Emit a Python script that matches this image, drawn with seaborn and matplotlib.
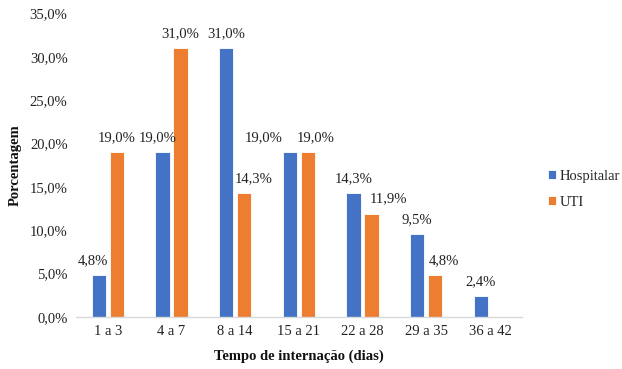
import matplotlib
matplotlib.use("Agg")
import matplotlib.pyplot as plt
import seaborn as sns
import pandas as pd
import numpy as np
from matplotlib.ticker import FuncFormatter

categories = ["1 a 3", "4 a 7", "8 a 14", "15 a 21", "22 a 28", "29 a 35", "36 a 42"]
hospitalar = [4.8, 19.0, 31.0, 19.0, 14.3, 9.5, 2.4]
uti = [19.0, 31.0, 14.3, 19.0, 11.9, 4.8, 0.0]
series = ["Hospitalar", "UTI"]
colors = ["#4472C4", "#ED7D31"]

# horizontal nudges of the value labels (pixels), as placed in the reference
label_dx_hosp = [-6, -5, 0, -26, 0, 0, 0]
label_dx_uti = [0, 0, 10, 8, 17, 9, 0]

df = pd.DataFrame({
    "cat": categories * 2,
    "val": hospitalar + uti,
    "serie": [series[0]] * len(categories) + [series[1]] * len(categories),
})

sns.set_theme(style="white")
plt.rcParams["font.family"] = ["Liberation Serif", "DejaVu Serif"]

fig = plt.figure(figsize=(6.22, 3.69), dpi=100)
ax = fig.add_axes([0.122, 0.1417, 0.717, 0.8213])

sns.barplot(data=df, x="cat", y="val", hue="serie", order=categories,
            hue_order=series, palette=colors, width=0.564, gap=0.2, ax=ax,
            edgecolor="white", linewidth=0.6, saturation=1, errorbar=None)

def fmt(v):
    return ("%.1f%%" % v).replace(".", ",")

for cont, vals, dxs in zip(ax.containers, [hospitalar, uti], [label_dx_hosp, label_dx_uti]):
    for rect, v, dx in zip(cont, vals, dxs):
        if v <= 0:
            continue
        xc = rect.get_x() + rect.get_width() / 2
        ax.annotate(fmt(v), xy=(xc, rect.get_height()), xytext=(dx * 0.72, 8.0),
                    textcoords="offset points", ha="center", va="baseline",
                    fontsize=10.5, color="#222222")

ax.set_ylim(0, 35)
ax.set_xlim(-0.5, 6.5)
ax.set_yticks(np.arange(0, 36, 5))
ax.yaxis.set_major_formatter(FuncFormatter(lambda v, p: fmt(v)))
ax.tick_params(axis="both", labelsize=10.5, colors="#222222", length=0, pad=6)
ax.set_xlabel("Tempo de internação (dias)", fontsize=10.5, fontweight="bold", color="#111111", labelpad=8)
ax.set_ylabel("Porcentagem", fontsize=10.5, fontweight="bold", color="#111111", labelpad=6)

for s in ["top", "right", "left"]:
    ax.spines[s].set_visible(False)
ax.spines["bottom"].set_color("#D9D9D9")
ax.spines["bottom"].set_linewidth(1)

handles, labs = ax.get_legend_handles_labels()
ax.legend(handles, labs, loc="center left", bbox_to_anchor=(1.03, 0.42),
          frameon=False, fontsize=10.5, handlelength=0.55, handleheight=0.55,
          handletextpad=0.2, labelspacing=0.9)

fig.savefig("out.png", dpi=100)
